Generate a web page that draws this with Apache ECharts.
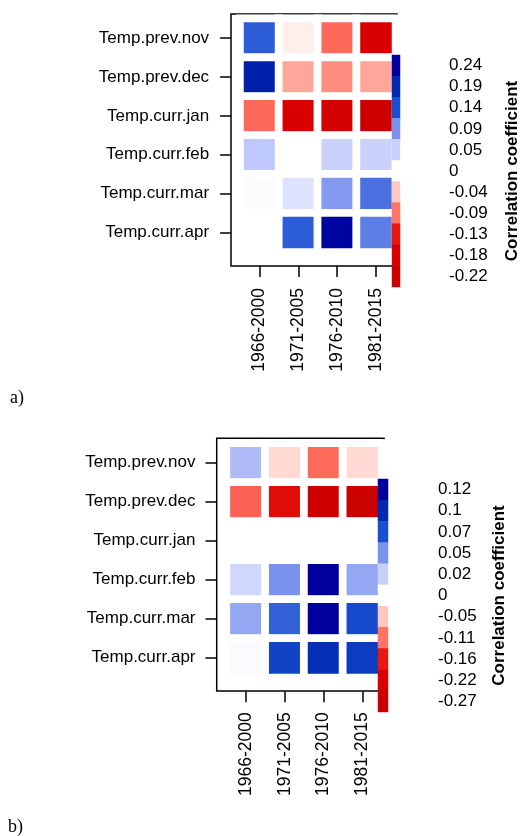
<!DOCTYPE html>
<html>
<head>
<meta charset="utf-8">
<script src="https://cdn.jsdelivr.net/npm/echarts@6/dist/echarts.min.js"></script>
<style>
  html, body { margin: 0; padding: 0; background: #fff; }
  #chart { width: 522px; height: 836px; }
</style>
</head>
<body>
<div id="chart"></div>
<script>
// ---- data ----
var periods = ['1966-2000', '1971-2005', '1976-2010', '1981-2015'];
var months = ['Temp.prev.nov', 'Temp.prev.dec', 'Temp.curr.jan', 'Temp.curr.feb', 'Temp.curr.mar', 'Temp.curr.apr'];

// panel a) correlation per month (rows) x period (cols)
var corrA = [
    [0.13, -0.012, -0.095, -0.18],
    [0.20, -0.06, -0.075, -0.06],
    [-0.095, -0.18, -0.19, -0.21],
    [0.055, 0, 0.048, 0.048],
    [0.003, 0.03, 0.085, 0.115],
    [0, 0.13, 0.235, 0.105]
];
// panel b)
var corrB = [
    [0.03, -0.035, -0.115, -0.035],
    [-0.12, -0.19, -0.25, -0.26],
    [0, 0, 0, 0],
    [0.017, 0.05, 0.12, 0.04],
    [0.04, 0.065, 0.12, 0.075],
    [0.002, 0.08, 0.095, 0.085]
];

// colour key tick values
var ticksA = [0.24, 0.19, 0.14, 0.09, 0.05, 0, -0.04, -0.09, -0.13, -0.18, -0.22];
var ticksB = [0.12, 0.1, 0.07, 0.05, 0.02, 0, -0.05, -0.11, -0.16, -0.22, -0.27];

// colour of each key step, top to bottom
var keyColors = ['#00009c', '#0028b0', '#1a50d0', '#7a92ee', '#c8d0fc', '#ffffff',
                 '#ffc8c0', '#ff7464', '#e81810', '#d80000', '#c80000'];

var FONT = 'Liberation Sans, Arial, sans-serif';

function hex2rgb(h) {
    return [parseInt(h.substr(1, 2), 16), parseInt(h.substr(3, 2), 16), parseInt(h.substr(5, 2), 16)];
}
function rgb2hex(c) {
    return '#' + c.map(function (v) {
        var s = Math.round(v).toString(16);
        return s.length < 2 ? '0' + s : s;
    }).join('');
}
// colour ramp sampled every 0.001 between min and max, following the key stops
function buildRamp(ticks) {
    var asc = ticks.map(function (t, i) { return {v: t, c: hex2rgb(keyColors[i])}; }).reverse();
    var min = asc[0].v, max = asc[asc.length - 1].v;
    var n = Math.round((max - min) * 1000) + 1;
    var out = [];
    for (var k = 0; k < n; k++) {
        var v = min + (max - min) * k / (n - 1);
        var j = 0;
        while (j < asc.length - 2 && v > asc[j + 1].v) j++;
        var a = asc[j], b = asc[j + 1];
        var t = Math.max(0, Math.min(1, (v - a.v) / (b.v - a.v)));
        out.push(rgb2hex([0, 1, 2].map(function (q) { return a.c[q] + (b.c[q] - a.c[q]) * t; })));
    }
    return out;
}

function cells(m) {
    var d = [];
    m.forEach(function (row, i) {
        row.forEach(function (v, j) { d.push([j, i, v]); });
    });
    return d;
}
function keyCells(ticks) {
    return ticks.map(function (v, i) { return [0, i, v]; });
}

function panelAxes(o) {
    var xs = [
        {gridIndex: o.frame, type: 'value', show: false, min: 0, max: 1},
        {
            gridIndex: o.data, type: 'category', data: periods, position: 'bottom', offset: o.xOff,
            axisLine: {show: false},
            axisTick: {show: true, alignWithLabel: true, length: 11, lineStyle: {color: '#000', width: 1.5}},
            axisLabel: {interval: 0, rotate: 90, margin: o.xMargin, fontSize: 17.5, color: '#000', fontFamily: FONT},
            splitLine: {show: false}
        },
        {gridIndex: o.key, type: 'category', data: ['k'], show: false}
    ];
    var ys = [
        {gridIndex: o.frame, type: 'value', show: false, min: 0, max: 1},
        {
            gridIndex: o.data, type: 'category', data: months, inverse: true, position: 'left', offset: o.yOff,
            axisLine: {show: false},
            axisTick: {show: true, interval: 0, alignWithLabel: true, length: 11, lineStyle: {color: '#000', width: 1.5}},
            axisLabel: {interval: 0, margin: o.yMargin, fontSize: 17, color: '#000', fontFamily: FONT},
            splitLine: {show: false}
        },
        {
            gridIndex: o.key, type: 'category', data: o.ticks.map(String), inverse: true, position: 'right',
            axisLine: {show: false}, axisTick: {show: false},
            axisLabel: {interval: 0, margin: o.keyMargin, fontSize: 17, color: '#000', fontFamily: FONT},
            name: 'Correlation coefficient', nameLocation: 'middle', nameRotate: 90, nameGap: o.nameGap,
            nameTextStyle: {fontSize: 17, fontWeight: 'bold', color: '#000', fontFamily: FONT}
        }
    ];
    return {x: xs, y: ys};
}

var axA = panelAxes({frame: 0, data: 1, key: 2, xOff: 14, yOff: 9, xMargin: 22, yMargin: 22,
                     keyMargin: 49, nameGap: 104, ticks: ticksA});
var axB = panelAxes({frame: 3, data: 4, key: 5, xOff: 14, yOff: 10, xMargin: 21, yMargin: 21,
                     keyMargin: 50, nameGap: 103, ticks: ticksB});

var chartDom = document.getElementById('chart');
var myChart = echarts.init(chartDom, null, {renderer: 'canvas'});

var option = {
    backgroundColor: '#fff',
    animation: false,
    grid: [
        {left: 231, top: 14, width: 166, height: 252, show: true, borderColor: '#000', borderWidth: 1.5, backgroundColor: 'transparent'},
        {left: 240.1, top: 18.6, width: 155.3, height: 233.4},
        {left: 392, top: 55, width: 10, height: 232},
        {left: 216.7, top: 438.3, width: 167.3, height: 252.7, show: true, borderColor: '#000', borderWidth: 1.5, backgroundColor: 'transparent'},
        {left: 226.5, top: 443.3, width: 155.2, height: 234},
        {left: 378, top: 479, width: 10, height: 233}
    ],
    xAxis: axA.x.concat(axB.x),
    yAxis: axA.y.concat(axB.y),
    visualMap: [
        {type: 'continuous', show: false, seriesIndex: [0, 1], min: ticksA[ticksA.length - 1], max: ticksA[0],
         inRange: {color: buildRamp(ticksA)}},
        {type: 'continuous', show: false, seriesIndex: [2, 3], min: ticksB[ticksB.length - 1], max: ticksB[0],
         inRange: {color: buildRamp(ticksB)}}
    ],
    series: [
        {type: 'heatmap', xAxisIndex: 1, yAxisIndex: 1, data: cells(corrA),
         itemStyle: {borderColor: '#fff', borderWidth: 7.8}, emphasis: {disabled: true}},
        {type: 'heatmap', xAxisIndex: 2, yAxisIndex: 2, data: keyCells(ticksA), z: 5,
         emphasis: {disabled: true}},
        {type: 'heatmap', xAxisIndex: 4, yAxisIndex: 4, data: cells(corrB),
         itemStyle: {borderColor: '#fff', borderWidth: 7.8}, emphasis: {disabled: true}},
        {type: 'heatmap', xAxisIndex: 5, yAxisIndex: 5, data: keyCells(ticksB), z: 5,
         emphasis: {disabled: true}}
    ],
    graphic: [
        {type: 'text', left: 10, top: 389, style: {text: 'a)', fontSize: 18, fontFamily: 'Liberation Serif, serif', fill: '#000'}},
        {type: 'text', left: 8, top: 818, style: {text: 'b)', fontSize: 18, fontFamily: 'Liberation Serif, serif', fill: '#000'}}
    ]
};

option && myChart.setOption(option);
</script>
</body>
</html>
